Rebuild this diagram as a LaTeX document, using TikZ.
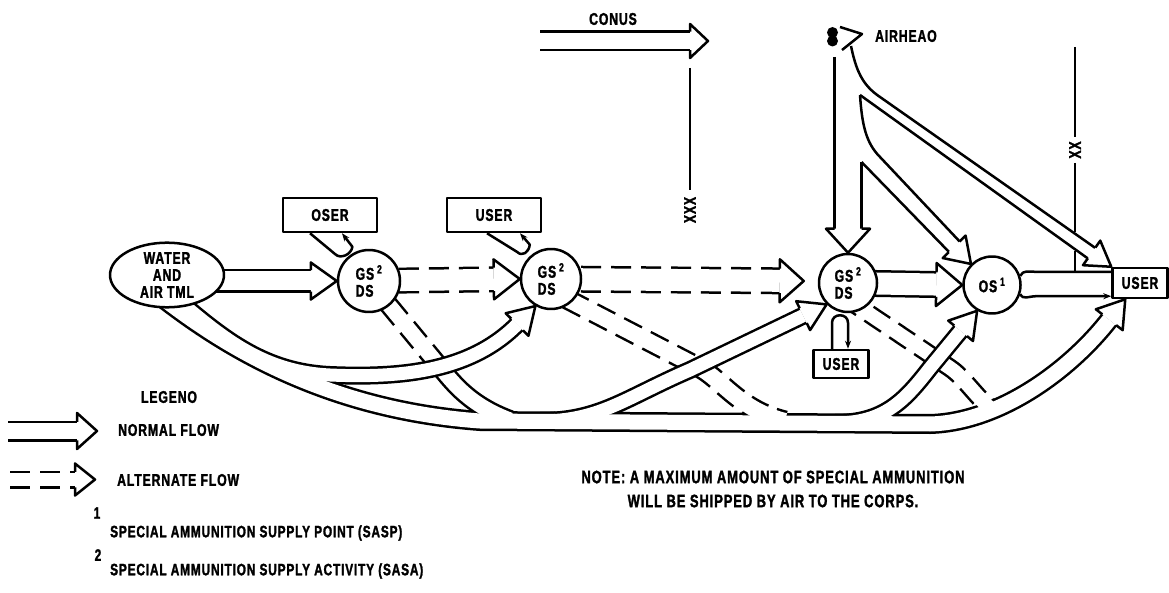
\documentclass[tikz,border=0pt]{standalone}
\usepackage{fontspec}
\setmainfont{Liberation Sans}[FakeStretch=0.72, LetterSpace=5, BoldFeatures={FakeBold=1.6}]
\usetikzlibrary{arrows.meta, calc, positioning, shapes.geometric, backgrounds}

\newcommand\labfont{\fontsize{17}{17}\selectfont\bfseries}
\newcommand\legfont{\fontsize{16.5}{18}\selectfont\bfseries}
\newcommand\notefont{\fontsize{18}{24}\selectfont\bfseries}

% open arrow head: [length]{tip}{point behind}{half shaft}{half barb}
\newcommand\openhead[5][26pt]{%
  \path ($(#2)!#1!(#3)$) coordinate (hb)
    ($(hb)!#4!90:(#2)$) coordinate (hs1) ($(hb)!#4!-90:(#2)$) coordinate (hs2)
    ($(hb)!#5!90:(#2)$) coordinate (hw1) ($(hb)!#5!-90:(#2)$) coordinate (hw2);
  \fill[white] (hs1) -- (hw1) -- (#2) -- (hw2) -- (hs2) -- cycle;
  \draw[ink] (hs1) -- (hw1) -- (#2) -- (hw2) -- (hs2);}

\tikzset{
  ink/.style={line width=2.5pt, line join=round},
  rimb/.style={line width=#1+5pt, black, line cap=butt},
  rimw/.style={line width=#1, white, line cap=butt},
  flow/.style={rimw=#1, preaction={draw, rimb=#1}},
  altflow/.style={rimw=#1, preaction={draw, rimb=#1, dash pattern=on 20pt off 10pt}},
  depot/.style={circle, draw, ink, fill=white, inner sep=0pt, align=left, font=\labfont},
  userbox/.style={rectangle, draw, ink, fill=white, inner sep=0pt, font=\labfont},
  terminal/.style={ellipse, draw, ink, fill=white, inner sep=0pt, align=center, font=\labfont},
  lbl/.style={font=\labfont, inner sep=0pt},
  feed/.style={ink, -{Stealth[length=8pt, width=6pt]}},
}

\begin{document}
\begin{tikzpicture}[x=1pt, y=-1pt]
\useasboundingbox (0,0) rectangle (1169,593);

% stations
\node[terminal, minimum width=114pt, minimum height=64pt] (tml) at (167,275) {WATER\\AND\\AIR TML};
\node[depot, minimum size=62pt] (gsa) at (369,281) {GS\,\textsuperscript{2}\\DS};
\node[depot, minimum size=60pt] (gsb) at (551,279) {GS\,\textsuperscript{2}\\DS};
\node[depot, minimum size=58pt] (gsc) at (848,283) {GS\,\textsuperscript{2}\\DS};
\node[depot, minimum size=57pt] (ds) at (992,285) {OS\,\textsuperscript{1}};
\node[userbox, minimum width=94pt, minimum height=34pt] (oser) at (330,215) {OSER};
\node[userbox, minimum width=94pt, minimum height=34pt] (userb) at (494,215) {USER};
\node[userbox, minimum width=55pt, minimum height=28pt] (userc) at (841,364) {USER};
\node[userbox, minimum width=55pt, minimum height=30pt] (usr) at (1140,283) {USER};

\begin{scope}[on background layer]
  % straight flows
  \coordinate (f0) at (tml.center |- gsa.west);
  \draw[flow=19pt, shorten >=26pt] (f0) -- (gsa.west);
  \openhead{gsa.west}{f0}{10.75pt}{18.5pt}
  \draw[altflow=21pt, shorten >=26pt] (gsa.center) -- (gsb.west);
  \openhead{gsb.west}{gsa.center}{11.75pt}{20pt}
  \coordinate (f1) at ($(gsc.west)+(-14,-2)$);
  \draw[altflow=22pt, shorten >=24pt] (gsb.center) -- (f1);
  \openhead[24pt]{f1}{gsb.center}{12.25pt}{21.5pt}
  \draw[flow=22pt, shorten >=26pt] (gsc.center) -- (ds.west);
  \openhead{ds.west}{gsc.center}{12.25pt}{21.5pt}

  % bottom network: trunk, branches, feeders
  \def\trunk{(165,300) .. controls (230,350) and (330,410) .. (480,421) -- (930,424) .. controls (1000,422) and (1070,370) .. ($(usr.south west)+(14,0)$)}
  \def\brA{(178,300) .. controls (225,340) and (265,372) .. (330,375) .. controls (400,378) and (470,372) .. (gsb.240)}
  \def\brB{(540,421) .. controls (600,421) and (625,398) .. (690,370) -- (gsc.225)}
  \def\brC{(835,423) .. controls (885,423) and (905,400) .. (930,368) -- (ds.240)}
  \def\fdA{(gsa.center) -- (440,367)}
  \def\fdAs{(440,367) .. controls (454,384) and (470,405) .. (510,420)}
  \def\fdB{($(gsb.center)+(-11,6)$) -- (700,368) .. controls (722,380) and (740,410) .. (785,421)}
  \def\fdC{($(gsc.center)+(-4,14)$) -- (950,368) .. controls (965,378) and (978,400) .. (995,412)}
  \draw[rimb=15pt, shorten >=26pt] \trunk;
  \draw[rimb=15pt, dash pattern=on 20pt off 10pt] \fdA;
  \draw[rimb=15pt] \fdAs;
  \draw[rimb=16pt, dash pattern=on 20pt off 10pt] \fdB;
  \draw[rimb=14pt, dash pattern=on 20pt off 10pt] \fdC;
  \draw[rimw=15pt] \fdA;
  \draw[rimw=15pt] \fdAs;
  \draw[rimw=16pt] \fdB;
  \draw[rimw=14pt] \fdC;
  \draw[rimb=13pt, shorten >=26pt] \brA;
  \draw[rimb=13pt, shorten >=26pt] \brB;
  \draw[rimb=13pt, shorten >=26pt] \brC;
  \draw[rimw=15pt, shorten >=26pt] \trunk;
  \draw[rimw=13pt, shorten >=26pt] \brA;
  \draw[rimw=13pt, shorten >=26pt] \brB;
  \draw[rimw=13pt, shorten >=26pt] \brC;
  \openhead{gsb.240}{470,372}{8.25pt}{16pt}
  \openhead{gsc.225}{690,370}{8.25pt}{16pt}
  \openhead{ds.240}{930,368}{8.25pt}{16pt}
  \openhead{$(usr.south west)+(14,0)$}{1070,370}{8.75pt}{17pt}
\end{scope}

% issues to users
\draw[feed] ($(oser.south)+(-20,0)$) -- ($(gsa.140)+(-9,-6)$) .. controls +(5,5) and +(-1,8) .. ($(gsa.115)+(-3,-5)$) -- ($(oser.south)+(12,0)$);
\draw[feed] ($(userb.south)+(-7,0)$) -- ($(gsb.140)+(-10,-7)$) .. controls +(5,5) and +(-1,8) .. ($(gsb.115)+(-8,-6)$) -- ($(userb.south)+(26,0)$);
\draw[feed] ($(userc.north)+(-9,0)$) -- ++(0,-26) .. controls +(0,-10) and +(0,-10) .. ++(16,0) -- ($(userc.north)+(7,0)$);
\draw[ink] (ds.18) .. controls +(3,-6) and +(-8,0) .. ($(ds.18)+(16,-4)$) coordinate (dt) -- (dt -| usr.west);
\draw[feed] (ds.-18) .. controls +(3,6) and +(-8,0) .. ($(ds.-18)+(16,2)$) coordinate (dbt) -- (dbt -| usr.west);

% CONUS
\node[lbl] (conus) at (613,19) {CONUS};
\coordinate (cn) at (540,41);
\coordinate (cnt) at (708,41);
\draw[flow=16pt, shorten >=18pt] (cn) -- (cnt);
\openhead[18pt]{cnt}{cn}{9.25pt}{17pt}

% boundaries
\draw[ink] (690,68) -- (690,190);
\node[lbl, rotate=90] at (690,210) {XXX};
\draw[ink] (1075,47) -- (1075,137);
\node[lbl, rotate=90] at (1075,150) {XX};
\draw[ink] (1075,163) -- (1075,232);
\draw[ink] (1075,251) -- (1075,272);

% airhead and its fork
\fill (832.5,32.5) circle (5.5pt);
\fill (832.5,41) circle (5.5pt);
\draw[ink] (840,27) -- (862,34) -- (842,50);
\node[lbl, anchor=west] at (875,36) {AIRHEAO};
\coordinate (fkA) at (860,95);
\coordinate (fkB) at (861.5,162);
\coordinate (vtb) at (848,150);
\coordinate (vob) at (870,161);
\coordinate (vub) at (880,104);
\draw[ink] (834.5,57) -- (834.5,231);
\draw[ink] (fkB) -- (861.5,231);
\draw[ink] (fkB) -- (951,254);
\draw[ink] (fkA) .. controls (862,125) and (866,143) .. (880,157) -- (962,244);
\draw[ink] (fkA) -- (1090,260);
\draw[ink] (851,46) .. controls (856,70) and (862,85) .. (880,97) -- (1097.5,249.5);
\openhead[24pt]{gsc.north}{vtb}{13.5pt}{22pt}
\openhead[24pt]{ds.135}{vob}{7.5pt}{16pt}
\openhead[24pt]{usr.north west}{vub}{6.5pt}{15pt}

% legend
\node[lbl] at (169,397) {LEGENO};
\coordinate (lgn) at (8,431);
\coordinate (lgnt) at (97,431);
\draw[flow=16pt, shorten >=20pt] (lgn) -- (lgnt);
\openhead[20pt]{lgnt}{lgn}{9.25pt}{18pt}
\node[lbl, anchor=west] at (118,430) {NORMAL FLOW};
\coordinate (lga) at (10,479.5);
\coordinate (lgat) at (95,479.5);
\draw[altflow=13pt, shorten >=20pt] (lga) -- (lgat);
\openhead[20pt]{lgat}{lga}{7.75pt}{16pt}
\node[lbl, anchor=west] at (117,480) {ALTERNATE FLOW};
\node[lbl, font=\legfont] at (97,513) {1};
\node[lbl, font=\legfont, anchor=west] at (110,533) {SPECIAL AMMUNITION SUPPLY POINT (SASP)};
\node[lbl, font=\legfont] at (98,555) {2};
\node[lbl, font=\legfont, anchor=west] at (110,571) {SPECIAL AMMUNITION SUPPLY ACTIVITY (SASA)};

% note
\node[font=\notefont, align=center] at (773,489) {NOTE: A MAXIMUM AMOUNT OF SPECIAL AMMUNITION\\WILL BE SHIPPED BY AIR TO THE CORPS.};
\end{tikzpicture}
\end{document}
